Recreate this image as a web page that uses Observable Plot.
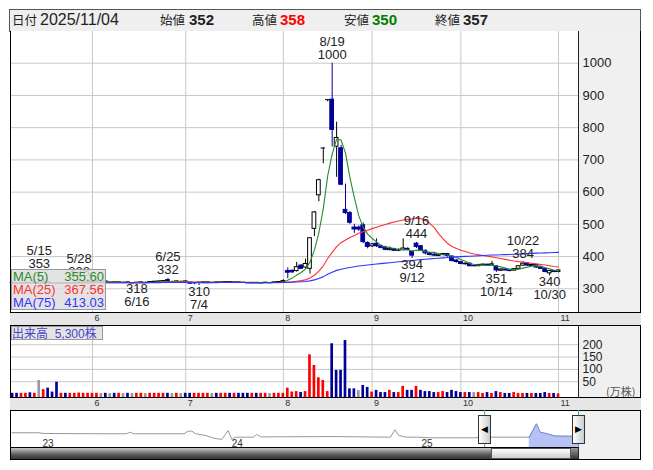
<!DOCTYPE html>
<html><head><meta charset="utf-8">
<script src="https://cdn.jsdelivr.net/npm/d3@7"></script>
<script src="https://cdn.jsdelivr.net/npm/@observablehq/plot@0.6"></script>
<style>
body{margin:0;background:#fff;}
#root{position:relative;width:653px;height:470px;overflow:hidden;font-family:"Liberation Sans",Arial,sans-serif;}
#root > *{position:absolute;}
#root svg{overflow:visible;}
.jp{font-family:"Noto Sans CJK JP",sans-serif;}
</style></head><body><div id="root"></div>
<script>
// ---------- data ----------
const monthDays = {
  5:[7,8,9,12,13,14,15,16,19,20,21,22,23,26,27,28,29,30],
  6:[2,3,4,5,6,9,10,11,12,13,16,17,18,19,20,23,24,25,26,27,30],
  7:[1,2,3,4,7,8,9,10,11,14,15,16,17,18,22,23,24,25,28,29,30,31],
  8:[1,4,5,6,7,8,12,13,14,15,18,19,20,21,22,25,26,27,28,29],
  9:[1,2,3,4,5,8,9,10,11,12,16,17,18,19,22,24,25,26,29,30],
  10:[1,2,3,6,7,8,9,10,14,15,16,17,20,21,22,23,24,27,28,29,30,31],
  11:[4]
};
const prevClose = 319;
const open = [319,318,317,318,319,318,320,319,320,318,317,316,317,316,317,318,319,320,
 321,322,323,323,321,321,319,320,320,318,318,319,320,320,321,322,323,327,322,322,323,
 323,319,318,319,320,319,320,320,319,320,321,319,320,319,318,317,318,317,318,319,319,320,
 322,355,356,355,372,366,362,486,590,737,887,887,741,736,545,535,490,490,497,442,
 432,440,432,428,420,423,418,420,424,415,440,432,418,410,406,402,405,408,400,388,
 383,376,378,371,370,373,375,372,370,356,360,357,356,362,372,378,371,374,366,362,348,355,
 352];
const high = [320,319,319,320,320,320,353,328,322,319,318,318,318,318,319,328,321,322,
 323,324,324,324,322,322,321,321,321,319,320,321,321,322,323,324,325,332,324,324,324,
 324,320,319,320,321,321,321,321,321,322,322,321,321,320,319,319,319,319,320,320,321,322,
 328,365,358,382,375,392,457,540,640,737,887,1000,817,745,625,540,500,495,504,446,
 441,455,436,432,430,426,425,455,427,418,444,435,420,413,409,409,410,410,402,390,
 385,380,380,373,376,377,376,385,372,362,362,358,363,372,384,380,376,375,368,363,356,357,
 358];
const low = [317,316,316,317,317,317,318,318,317,316,314,315,315,315,316,317,318,319,
 320,321,322,320,320,319,319,319,318,318,318,318,319,319,320,321,322,321,321,321,322,
 319,314,313,310,317,318,319,318,318,319,318,318,318,317,316,316,316,316,317,318,318,319,
 320,331,348,352,360,360,346,462,570,688,880,740,646,620,530,500,472,478,440,424,
 428,428,424,418,418,416,415,418,418,394,425,415,405,402,400,400,402,398,384,380,
 375,374,369,368,369,372,370,371,351,354,355,353,355,360,370,370,369,364,360,350,340,350,
 350];
const close = [318,317,318,319,318,319,319,320,318,317,316,317,316,317,318,319,320,321,
 322,323,323,321,321,319,320,320,318,318,319,320,320,321,322,323,324,322,322,323,323,
 320,316,317,318,319,320,320,319,320,321,319,320,319,318,317,318,317,318,319,319,320,321,
 324,350,351,367,362,377,457,537,637,737,887,793,768,623,535,505,484,484,445,430,
 438,432,427,421,424,418,420,425,420,403,430,418,410,405,403,406,408,402,386,383,
 377,378,370,370,374,375,372,376,357,360,357,355,361,370,378,372,374,366,362,352,355,352,
 357];
// 出来高 (万株)
const volume = [3,3,3,3,5,3,55,18,24,8,48,3,3,3,3,4,3,3,
 3,3,2,3,2,3,3,2,3,2,3,3,2,3,3,3,3,3,2,3,2,
 3,3,3,3,3,3,2,3,3,3,3,3,3,3,3,3,3,3,3,2,3,3,
 3,24,8,10,6.5,10,159,116,66,55,10,204,96,96,217,21,21,14,35,27,
 8,15,6,6,15,6,6,31,15,15,31,15,10,10,6,6,10,6,15,10,
 6,6,6,6,6,2.4,6,2.4,10,6,2.4,2.4,6,2.4,2.4,2.4,2.4,2.4,2.4,6,2.4,2.4,
 0.53];
const priceTicks = [300,400,500,600,700,800,900,1000];
const volTicks = [50,100,150,200];
const highLabelDates = ["5/15","5/28","6/25","8/19","9/16","10/22"];
const lowLabelDates = ["6/16","7/4","9/12","10/14","10/30"];
const maPeriods = [5,25,75];
const maColors = ["#2b8a2b","#ff3030","#3333ff"];
const yearLabel = "2025";
// navigator (long-term closes)
const navDate = ["2022-11-07","2022-12-27","2023-01-09","2023-04-26","2023-06-16","2023-06-23","2023-06-30","2023-10-05","2023-10-13","2023-10-20","2023-10-27","2023-11-14","2023-12-01","2023-12-17","2023-12-29","2024-01-05","2024-01-12","2024-02-16","2024-02-22","2024-03-01","2024-07-19","2024-11-06","2024-11-15","2024-11-22","2024-12-06","2024-12-31","2025-01-20","2025-04-18","2025-05-02","2025-08-01","2025-08-15","2025-08-22","2025-09-05","2025-09-19","2025-10-17","2025-11-04"];
const navClose = [458,458,436,427,427,477,427,427,508,508,427,380,290,250,530,249,321,321,405,330,340,321,551,374,321,321,302,302,321,321,738,477,427,360,352,352];
const navYears = ["2023-01-01","2024-01-01","2025-01-01"];

// ---------- derived tables ----------
const dates = [];
const monthOfIdx = [];
for (const m of Object.keys(monthDays).map(Number).sort((a,b)=>a-b))
  for (const d of monthDays[m]) { dates.push(`${m}/${d}`); monthOfIdx.push(m); }
const bars = dates.map((date,i)=>({i,date,open:open[i],high:high[i],low:low[i],close:close[i],vol:volume[i],
  prev: i ? close[i-1] : prevClose}));
const monthStarts = bars.filter((d,i)=> i>0 && monthOfIdx[i]!==monthOfIdx[i-1]).map(d=>d.i);
const up = d => d.close > d.open, down = d => d.close < d.open;
const NAVY = "#000099";
const volColor = d => d.close > d.prev ? "#ff0000" : d.close < d.prev ? NAVY : "#999999";
const hiAnn = bars.filter(d=>highLabelDates.includes(d.date));
const loAnn = bars.filter(d=>lowLabelDates.includes(d.date));
const navData = navDate.map((d,k)=>({date:new Date(d), v:navClose[k]}));
const isoOf = s => { const [m,d]=s.split("/"); return `${yearLabel}-${m.padStart(2,"0")}-${d.padStart(2,"0")}`; };
const winStart = new Date(isoOf(dates[0]));
const winEnd = new Date(isoOf(dates.at(-1)));

const root = document.getElementById("root");
function box(css, html="") { const e=document.createElement("div"); e.style.cssText=css; e.innerHTML=html; root.appendChild(e); return e; }

// ---------- frame / backgrounds ----------
box("left:9px;top:9px;width:632px;height:23px;background:#efefef;border:1px solid #555;box-sizing:border-box;");
box("left:10px;top:31px;width:631px;height:429px;background:#fff;border:1px solid #000;border-top:none;box-sizing:border-box;");
box("left:579px;top:31px;width:61px;height:428px;background:#f0f0f0;");
box("left:10px;top:312px;width:631px;height:14px;background:#e6e6e6;border-top:1px solid #000;border-bottom:1px solid #000;box-sizing:border-box;");
box("left:10px;top:397px;width:631px;height:14px;background:#e6e6e6;border-top:1px solid #000;border-bottom:1px solid #000;box-sizing:border-box;");
for (const [t,h] of [[31,281],[325,72],[410,49]]) box(`left:578px;top:${t}px;width:1px;height:${h}px;background:#222;`);

// header
const last = bars.at(-1);
const hdr = [
  [12,"日付","jp",12.5,"#222",400],[40,isoOf(dates.at(-1)).replaceAll("-","/"),"",16,"#222",400],
  [160,"始値","jp",12.5,"#222",400],[189,last.open,"",15,"#222",700],
  [252,"高値","jp",12.5,"#222",400],[280,last.high,"",15,"#ff0000",700],
  [344,"安値","jp",12.5,"#222",400],[372,last.low,"",15,"#008000",700],
  [435,"終値","jp",12.5,"#222",400],[463,last.close,"",15,"#222",700]];
for (const [x,t,cls,fs,col,fw] of hdr)
  box(`left:${x}px;top:10px;height:20px;line-height:20px;font-size:${fs}px;color:${col};font-weight:${fw};`, `<span class="${cls}">${t}</span>`);

// ---------- price panel ----------
const xDom = [-0.25, 127.5];
const grid = {stroke:"#c8c8c8", strokeOpacity:1};
const monthAxis = {anchor:"bottom", label:null, tickSize:0, tickPadding:2, fontSize:9, fill:"#333", textAnchor:"start", dx:2, tickFormat:i=>String(monthOfIdx[i])};
const maMarks = maPeriods.map((k,j)=>Plot.lineY(bars, Plot.windowY({k, anchor:"end"}, {x:"i", y:"close", stroke:maColors[j], strokeWidth:1.1})));
const price = Plot.plot({
  width:653, height:294, marginLeft:11, marginRight:75, marginTop:0, marginBottom:13,
  style:{background:"transparent", fontFamily:"Liberation Sans, Arial, sans-serif"},
  x:{domain:xDom, axis:null}, y:{domain:[226.5,1098.4], axis:null},
  marks:[
    Plot.gridY(priceTicks, grid),
    Plot.gridX(monthStarts, grid),
    Plot.axisY(priceTicks, {anchor:"right", label:null, tickSize:0, tickPadding:4, fontSize:13, fill:"#222", tickFormat:d=>String(d)}),
    Plot.axisX(monthStarts, monthAxis),
    Plot.ruleX(bars, {x:"i", y1:"low", y2:"high", stroke:d=>down(d)?NAVY:"#000", strokeWidth:1}),
    Plot.rect(bars.filter(d=>d.open!==d.close), {x1:d=>d.i-0.42, x2:d=>d.i+0.42, y1:"open", y2:"close",
      fill:d=>up(d)?"#fff":NAVY, stroke:d=>up(d)?"#000":NAVY, strokeWidth:1}),
    Plot.ruleY(bars.filter(d=>d.open===d.close), {x1:d=>d.i-0.5, x2:d=>d.i+0.5, y:"close", stroke:"#000"}),
    ...maMarks,
    Plot.text(hiAnn, {x:"i", y:"high", text:d=>`${d.date}\n${d.high}`, lineAnchor:"bottom", dy:-4, fontSize:13, fill:"#222"}),
    Plot.text(loAnn, {x:"i", y:"low", text:d=>`${d.low}\n${d.date}`, lineAnchor:"top", dy:1, fontSize:13, fill:"#222"})
  ]
});
price.style.left="0px"; price.style.top="31px"; root.appendChild(price);

// ---------- volume panel ----------
const volDom = [-14, 274];
const vol = Plot.plot({
  width:653, height:85, marginLeft:11, marginRight:75, marginTop:1, marginBottom:13,
  style:{background:"transparent", fontFamily:"Liberation Sans, Arial, sans-serif"},
  x:{domain:xDom, axis:null}, y:{domain:volDom, axis:null},
  marks:[
    Plot.gridY(volTicks, grid),
    Plot.gridX(monthStarts, grid),
    Plot.axisY(volTicks, {anchor:"right", label:null, tickSize:0, tickPadding:4, fontSize:12, fill:"#222"}),
    Plot.axisX(monthStarts, monthAxis),
    Plot.rect(bars, {x1:d=>d.i-0.3, x2:d=>d.i+0.3, y1:()=>volDom[0], y2:"vol", fill:volColor})
  ]
});
vol.style.left="0px"; vol.style.top="325px"; root.appendChild(vol);
box("left:606px;top:383px;font-size:11px;color:#555;", `<span class="jp">(万株)</span>`);

// ---------- navigator ----------
const inWin = navData.filter(d=>d.date>=winStart);
const nav = Plot.plot({
  width:653, height:37, marginLeft:11, marginRight:75, marginTop:0, marginBottom:0,
  style:{background:"transparent", fontFamily:"Liberation Sans, Arial, sans-serif"},
  x:{type:"time", domain:[new Date("2022-11-06"), winEnd], axis:null},
  y:{domain:[0,1150], axis:null},
  marks:[
    Plot.areaY(inWin, {x:"date", y:"v", fill:"#b6c2f4"}),
    Plot.lineY(navData.filter(d=>d.date<=winStart || d===inWin[0]), {x:"date", y:"v", stroke:"#999", strokeWidth:1}),
    Plot.lineY(inWin, {x:"date", y:"v", stroke:"#7683d2", strokeWidth:1}),
    Plot.ruleX([winStart, winEnd], {stroke:"#3aa0d0"}),
    Plot.text(navYears.map(d=>new Date(d)), {x:d=>d, text:d=>String(d.getFullYear()).slice(2), frameAnchor:"bottom", lineAnchor:"bottom", dy:-1, dx:2, textAnchor:"start", fontSize:10, fill:"#333"})
  ]
});
nav.style.left="0px"; nav.style.top="410px"; root.appendChild(nav);
const sx = nav.scale("x");
const hx0 = sx.apply(winStart), hx1 = sx.apply(winEnd);
// scrollbar
box("left:11px;top:447px;width:567px;height:12px;background:linear-gradient(#c8c8c8,#5a5a5a 60%,#333);border-top:1px solid #000;box-sizing:border-box;");
box(`left:${hx0+7}px;top:448px;width:${hx1-hx0-14}px;height:11px;background:linear-gradient(#fff,#ccc);border:1px solid #555;box-sizing:border-box;`);
box(`left:${hx1-7}px;top:448px;width:7px;height:11px;background:linear-gradient(#999,#333);`);
// handles
const handle = (x, tri) => box(`left:${x-6}px;top:415px;width:13px;height:29px;background:linear-gradient(90deg,#fff,#ccc);border:1px solid #333;box-sizing:border-box;font-size:9px;line-height:27px;text-align:center;color:#000;`, tri);
handle(hx0, "◀"); handle(hx1, "▶");

// ---------- overlays ----------
const maVals = maPeriods.map(k=>d3.mean(close.slice(-k)).toFixed(2));
box("left:11px;top:269px;width:95px;height:41px;background:rgba(222,222,222,0.85);border:1px solid #999;box-sizing:border-box;font-size:13px;line-height:13px;",
  maPeriods.map((k,j)=>`<div style="display:flex;justify-content:space-between;color:${maColors[j]};padding:0 1px;">
  <span>MA(${k})</span><span>${maVals[j]}</span></div>`).join(""));
box("left:11px;top:326px;width:92px;height:14px;background:#e4e4e4;border:1px solid #999;box-sizing:border-box;font-size:12px;line-height:12px;color:#4646c8;",
  `<span class="jp" style="font-size:12px;">出来高</span>&nbsp;&nbsp;${d3.format(",")(Math.round(volume.at(-1)*10000))}<span class="jp">株</span>`);
</script></body></html>
